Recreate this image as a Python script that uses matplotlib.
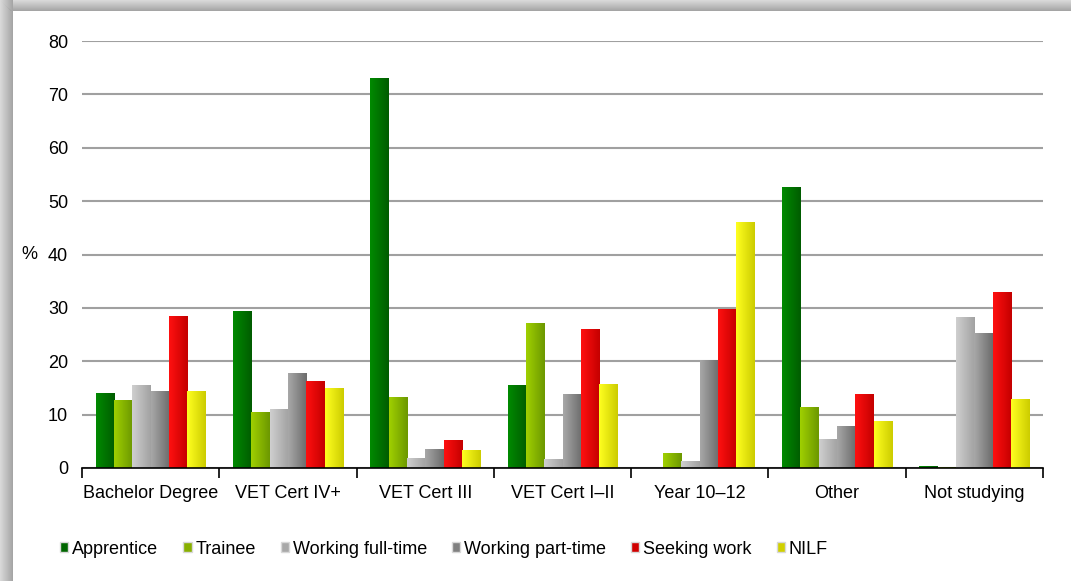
import matplotlib.pyplot as plt
import matplotlib.colors as mcolors
import numpy as np

plt.rcParams['font.family'] = ['Liberation Sans', 'DejaVu Sans']

categories = ['Bachelor Degree', 'VET Cert IV+', 'VET Cert III', 'VET Cert I\u2013II',
              'Year 10\u201312', 'Other', 'Not studying']
series = ['Apprentice', 'Trainee', 'Working full-time', 'Working part-time', 'Seeking work', 'NILF']

apprentice = [14.0, 29.5, 73.0, 15.5, 0.0, 52.7, 0.4]
trainee = [12.8, 10.5, 13.3, 27.1, 2.9, 11.5, 0.1]
working_full = [15.6, 11.0, 1.8, 1.7, 1.3, 5.5, 28.2]
working_part = [14.5, 17.8, 3.6, 13.9, 20.2, 7.8, 25.2]
seeking = [28.5, 16.3, 5.3, 26.1, 29.8, 13.8, 32.9]
nilf = [14.5, 15.0, 3.3, 15.8, 46.0, 8.8, 13.0]

values = [apprentice, trainee, working_full, working_part, seeking, nilf]

# (light, dark) gradient ends for each series, plus legend colour
grads = [('#008a00', '#005c00'), ('#a0d000', '#6c9800'), ('#cfcfcf', '#a2a2a2'),
         ('#a8a8a8', '#6c6c6c'), ('#ff1010', '#c40000'), ('#ffff20', '#cccc00')]
legend_cols = ['#006600', '#88b000', '#a8a8a8', '#808080', '#d00000', '#d0d000']

W, H = 1071, 581
fig = plt.figure(figsize=(W / 100, H / 100), dpi=100)

# background with shadow bands on top and left
bg = np.ones((H, W, 3))
for i in range(13):
    v = 0.85 - 0.2 * i / 12
    bg[:, i, :] = v
for j in range(11):
    v = 0.85 - 0.2 * j / 10
    bg[j, j:, :] = np.minimum(bg[j, j:, :], v)
bgax = fig.add_axes([0, 0, 1, 1], zorder=0)
bgax.imshow(bg, aspect='auto', interpolation='nearest')
bgax.axis('off')

ax = fig.add_axes([82 / W, (H - 468) / H, (1043 - 82) / W, (468 - 41) / H], zorder=2)
ax.patch.set_alpha(0)

x = np.arange(len(categories))
n = len(series)
bw = 0.8 / n
for k, (vals, (c1, c2)) in enumerate(zip(values, grads)):
    pos = x - 0.4 + bw * (k + 0.5)
    bars = ax.bar(pos, vals, width=bw, color=legend_cols[k], label=series[k],
                  edgecolor='none', zorder=2)
    cmap = mcolors.LinearSegmentedColormap.from_list('g%d' % k, [c1, c2])
    grad = np.linspace(0, 1, 64).reshape(1, -1)
    for b in bars:
        if b.get_height() <= 0:
            continue
        x0 = b.get_x()
        im = ax.imshow(grad, cmap=cmap, aspect='auto', zorder=3,
                       extent=[x0, x0 + b.get_width(), 0, b.get_height()])
        im.set_clip_path(b)
        b.set_facecolor('none')

ax.set_xlim(-0.5, len(categories) - 0.5)
ax.set_ylim(0, 80)
ax.set_yticks(range(0, 81, 10))
ax.yaxis.grid(True, color='#a0a0a0', linewidth=1.5, zorder=1)
ax.set_axisbelow(True)
for s in ['top', 'right', 'left']:
    ax.spines[s].set_visible(False)
ax.spines['bottom'].set_linewidth(1.2)
ax.spines['bottom'].set_zorder(5)
ax.tick_params(axis='y', length=0, pad=10, labelsize=13)
ax.set_xticks(x)
ax.set_xticklabels(categories, fontsize=13)
ax.tick_params(axis='x', length=0, pad=12)
ax.set_xticks(np.arange(-0.5, len(categories), 1), minor=True)
ax.tick_params(axis='x', which='minor', length=7, width=1.2, direction='out')
ax.set_ylabel('%', rotation=0, fontsize=13, va='center', ha='center')
ax.yaxis.set_label_coords(-0.055, 0.5)

leg = fig.legend(loc='center left', bbox_to_anchor=(44 / W, 1 - 549 / H), ncol=6,
                 frameon=False, fontsize=13, handlelength=0.45, handleheight=0.45,
                 handletextpad=0.2, columnspacing=1.4)
for h, c in zip(leg.legend_handles, legend_cols):
    h.set_facecolor(c)
    h.set_edgecolor('#d8d8d8')

fig.savefig('out.png', dpi=100)
